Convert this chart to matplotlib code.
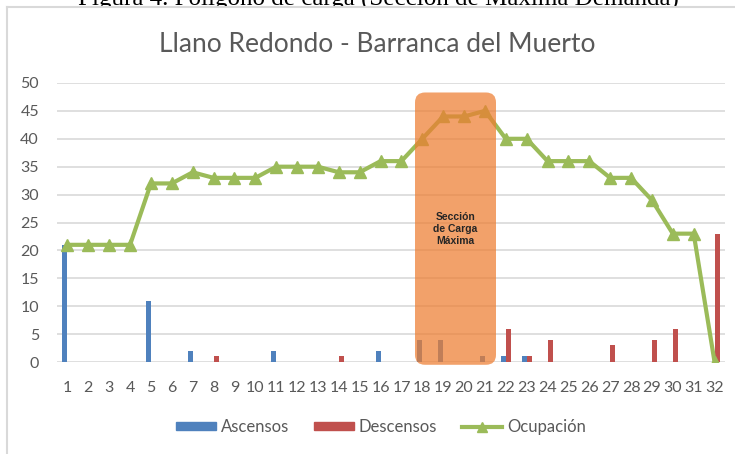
import numpy as np
import matplotlib.pyplot as plt
from matplotlib.patches import FancyBboxPatch, Patch, Rectangle
from matplotlib.lines import Line2D

# Datos
paradas = np.arange(1, 33)
ascensos = [21, 0, 0, 0, 11, 0, 2, 0, 0, 0, 2, 0, 0, 0, 0, 2,
            0, 4, 4, 0, 1, 1, 1, 0, 0, 0, 0, 0, 0, 0, 0, 0]
descensos = [0, 0, 0, 0, 0, 0, 0, 1, 0, 0, 0, 0, 0, 1, 0, 0,
             0, 0, 0, 0, 0, 6, 1, 4, 0, 0, 3, 0, 4, 6, 0, 23]
ocupacion = [21, 21, 21, 21, 32, 32, 34, 33, 33, 33, 35, 35, 35, 34, 34, 36,
             36, 40, 44, 44, 45, 40, 40, 36, 36, 36, 33, 33, 29, 23, 23, 0]

azul = "#4F81BD"
rojo = "#C0504D"
verde = "#9BBB59"
naranja = "#ED7D31"
gris = "#595959"

plt.rcParams['font.family'] = ['Lato', 'DejaVu Sans']

fig = plt.figure(figsize=(7.35, 4.54), dpi=100)
ax = fig.add_axes([57/735, 1-362/454, 668/735, 279/454])

w = 0.24
ax.bar(paradas - w/2, ascensos, w, color=azul, zorder=2)
ax.bar(paradas + w/2, descensos, w, color=rojo, zorder=2)
ax.plot(paradas, ocupacion, color=verde, lw=3, marker="^", ms=8, zorder=3)

# Seccion de carga maxima
caja = FancyBboxPatch((17.65, -0.5), 3.88, 48.8, boxstyle="round,pad=0,rounding_size=0.48",
                      mutation_aspect=3.74, facecolor=naranja, edgecolor="none",
                      alpha=0.72, zorder=4, clip_on=False)
ax.add_patch(caja)
ax.text(19.58, 23.8, "Sección\nde Carga\nMáxima", ha="center", va="center",
        fontsize=7.5, fontweight="bold", color="#262626", linespacing=1.25,
        family=["Liberation Sans"], zorder=5)

ax.set_xlim(0.5, 32.5)
ax.set_ylim(0, 50)
ax.set_yticks(range(0, 51, 5))
ax.set_xticks(paradas)
ax.yaxis.grid(True, color="#D9D9D9", lw=1.2, zorder=0)
ax.set_axisbelow(True)
for s in ax.spines.values():
    s.set_visible(False)
ax.tick_params(length=0, labelsize=11.5, labelcolor=gris)
ax.tick_params(axis="y", pad=13)
ax.tick_params(axis="x", pad=14)

fig.text(377/735, 1-45/454, "Llano Redondo - Barranca del Muerto", ha="center", va="center",
         fontsize=19, color=gris)

handles = [Patch(color=azul), Patch(color=rojo),
           Line2D([], [], color=verde, lw=3, marker="^", ms=7)]
fig.legend(handles, ["Ascensos", "Descensos", "Ocupación"], loc="center",
           bbox_to_anchor=(381/735, 1-427/454), ncol=3, frameon=False, fontsize=12,
           labelcolor=gris, handlelength=2.4, handleheight=0.35, handletextpad=0.3,
           columnspacing=1.5)

# pie de figura cortado, tapado por el fondo blanco del grafico
fig.text(378/735, 1-5.5/454, "Figura 4. Polígono de carga (Sección de Máxima Demanda)",
         ha="center", va="baseline", fontsize=18, family=["Liberation Serif"],
         color="black", zorder=-2)
fig.add_artist(Rectangle((7/735, 0), 1, 1-7/454, facecolor="white", edgecolor="none",
                         zorder=-1))
fig.add_artist(Line2D([7/735, 7/735], [0, 1-7/454], color="#D9D9D9", lw=1.5))
fig.add_artist(Line2D([7/735, 1], [1-7/454, 1-7/454], color="#D9D9D9", lw=1.5))

fig.savefig("out.png", dpi=100)
